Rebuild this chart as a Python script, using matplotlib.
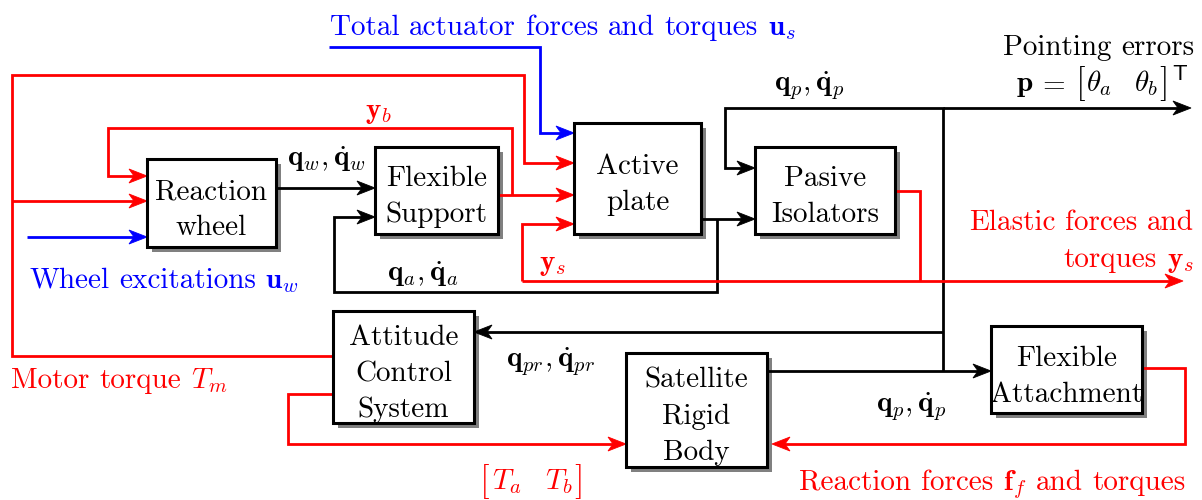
import matplotlib.pyplot as plt
import matplotlib.patches as patches
import numpy as np

plt.rcParams['mathtext.fontset'] = 'cm'
plt.rcParams['font.family'] = ['cmr10', 'DejaVu Serif']
plt.rcParams['axes.unicode_minus'] = False

# colours
RED = '#FF0000'
BLUE = '#0000FF'
BLACK = '#000000'
SHADOW = '#808080'

# blocks of the diagram
block_keys = ['rw', 'fs', 'ap', 'pi', 'acs', 'srb', 'fa']
block_labels = [['Reaction', 'wheel'], ['Flexible', 'Support'], ['Active', 'plate'],
                ['Pasive', 'Isolators'], ['Attitude', 'Control', 'System'],
                ['Satellite', 'Rigid', 'Body'], ['Flexible', 'Attachment']]

# signal labels (plain words, math in $...$)
sig_keys = ['us', 'pe', 'qp_top', 'qw', 'yb', 'ef1', 'ef2', 'ys', 'qa', 'uw',
            'qpr', 'tm', 'rf', 'qp_low']
sig_texts = [r'Total actuator forces and torques $\mathbf{u}_s$',
             'Pointing errors',
             r'$\mathbf{q}_p,\dot{\mathbf{q}}_p$',
             r'$\mathbf{q}_w,\dot{\mathbf{q}}_w$',
             r'$\mathbf{y}_b$',
             'Elastic forces and',
             r'torques $\mathbf{y}_s$',
             r'$\mathbf{y}_s$',
             r'$\mathbf{q}_a,\dot{\mathbf{q}}_a$',
             r'Wheel excitations $\mathbf{u}_w$',
             r'$\mathbf{q}_{pr},\dot{\mathbf{q}}_{pr}$',
             r'Motor torque $T_m$',
             r'Reaction forces $\mathbf{f}_f$ and torques',
             r'$\mathbf{q}_p,\dot{\mathbf{q}}_p$']
sig_colors = [BLUE, BLACK, BLACK, BLACK, RED, RED, RED, RED, BLACK, BLUE,
              BLACK, RED, RED, BLACK]

# vector labels with brackets
p_parts = [r'$\mathbf{p}$', r'$=$', r'$\theta_a$', r'$\theta_b$', r'$\mathsf{T}$']
t_parts = [r'$T_a$', r'$T_b$']

# layout (pixel units, y downwards)
box_pos = {'rw': (147, 159, 276, 247), 'fs': (375, 147, 498, 234),
           'ap': (574, 123, 701, 234), 'pi': (755, 147, 895, 234),
           'acs': (333, 311, 474, 423), 'srb': (626, 353, 767, 467),
           'fa': (991, 326, 1142, 413)}
sig_pos = {'us': (330, 35, 'left'), 'pe': (1194, 55, 'right'),
           'qp_top': (809, 91, 'center'), 'qw': (327, 166, 'center'),
           'yb': (379, 118, 'center'), 'ef1': (1194, 230, 'right'),
           'ef2': (1194, 267, 'right'), 'ys': (553, 270, 'center'),
           'qa': (423, 281, 'center'), 'uw': (29, 288, 'left'),
           'qpr': (551, 367, 'center'), 'tm': (11, 388, 'left'),
           'rf': (1186, 490, 'right'), 'qp_low': (911, 412, 'center')}

FS = 21
EM = FS * 100 / 72
SP = 0.333 * EM
BFS = 25          # bracket size
LINE = 36         # line pitch inside blocks
LW = 2.0
HEAD_LEN = 18
HEAD_W = 7

fig = plt.figure(figsize=(12.02, 5.0), dpi=100, facecolor='white')
ax = fig.add_axes([0, 0, 1, 1])
ax.set_xlim(0, 1202)
ax.set_ylim(500, 0)
ax.axis('off')
renderer = fig.canvas.get_renderer()


def wire(pts, color, arrow=True):
    pts = np.asarray(pts, dtype=float)
    line = pts.copy()
    if arrow:
        d = pts[-1] - pts[-2]
        d = d / np.hypot(*d)
        line[-1] = pts[-1] - d * HEAD_LEN * 0.6
    ax.plot(line[:, 0], line[:, 1], color=color, lw=LW, solid_joinstyle='miter',
            solid_capstyle='butt', zorder=2)
    if arrow:
        tip = pts[-1]
        n = np.array([-d[1], d[0]])
        back = tip - d * HEAD_LEN
        head = [tip, back + n * HEAD_W, tip - d * HEAD_LEN * 0.72, back - n * HEAD_W]
        ax.add_patch(patches.Polygon(head, closed=True, fc=color, ec=color, lw=0.6, zorder=3))


def row(x, y, pieces, color, ha):
    # pieces: (string, fontsize, dy, gap before)
    arts = [ax.text(0, y + dy, s, fontsize=fs, color=color, ha='left', va='baseline', zorder=6)
            for s, fs, dy, gap in pieces]
    widths = [a.get_window_extent(renderer).width for a in arts]
    gaps = [0] + [p[3] for p in pieces[1:]]
    total = sum(widths) + sum(gaps)
    cur = {'left': x, 'right': x - total, 'center': x - total / 2}[ha]
    for a, w, g in zip(arts, widths, gaps):
        cur += g
        a.set_x(cur)
        cur += w


def words(s):
    return [(w, FS, 0, SP) for w in s.split(' ')]


# blocks with drop shadow
for key, lines in zip(block_keys, block_labels):
    x0, y0, x1, y1 = box_pos[key]
    ax.add_patch(patches.Rectangle((x0 + 5, y0 + 5), x1 - x0, y1 - y0, fc=SHADOW, ec='none', zorder=1))
    ax.add_patch(patches.Rectangle((x0, y0), x1 - x0, y1 - y0, fc='white', ec=BLACK, lw=2.2, zorder=4))
    mid = (y0 + y1) / 2 + 14
    n = len(lines)
    for i, ln in enumerate(lines):
        ax.text((x0 + x1) / 2, mid + (i - (n - 1) / 2) * LINE, ln, ha='center', va='baseline',
                fontsize=FS, zorder=5)

# black signal paths
wire([(276, 188), (375, 188)], BLACK)
wire([(701, 219), (755, 219)], BLACK)
wire([(717, 219), (717, 292), (334, 292), (334, 217), (375, 217)], BLACK)
wire([(943, 371), (943, 108), (725, 108), (725, 168), (755, 168)], BLACK)
wire([(943, 108), (1191, 108)], BLACK)
wire([(767, 371), (991, 371)], BLACK)
wire([(943, 332), (474, 332)], BLACK)

# red signal paths
wire([(333, 356), (12, 356), (12, 75), (524, 75), (524, 163), (574, 163)], RED)
wire([(12, 201), (147, 201)], RED)
wire([(498, 195), (574, 195)], RED)
wire([(512, 195), (512, 128), (108, 128), (108, 176), (147, 176)], RED)
wire([(895, 191), (920, 191), (920, 281)], RED, arrow=False)
wire([(522, 281), (1183, 281)], RED)
wire([(522, 281), (522, 224), (574, 224)], RED)
wire([(333, 394), (288, 394), (288, 444), (626, 444)], RED)
wire([(1142, 368), (1185, 368), (1185, 444), (772, 444)], RED)

# blue inputs
wire([(329, 47), (540, 47), (540, 133), (574, 133)], BLUE)
wire([(27, 237), (147, 237)], BLUE)

# signal labels
for key, txt, col in zip(sig_keys, sig_texts, sig_colors):
    x, y, ha = sig_pos[key]
    row(x, y, words(txt), col, ha)

# bracketed vectors, brackets centred on the math axis
bdy = -0.25 * EM + 0.25 * BFS * 100 / 72
row(1188, 91, [(p_parts[0], FS, 0, 0), (p_parts[1], FS, 0, 0.15 * EM), ('[', BFS, bdy, 0.35 * EM),
               (p_parts[2], FS, 0, 1), (p_parts[3], FS, 0, 0.75 * EM), (']', BFS, bdy, 1),
               (p_parts[4], 0.75 * FS, -11, 3)], BLACK, 'right')
row(532, 489, [('[', BFS, bdy, 0), (t_parts[0], FS, 0, 2), (t_parts[1], FS, 0, 0.8 * EM),
               (']', BFS, bdy, 2)], RED, 'center')

fig.savefig('out.png', dpi=100, facecolor='white')
